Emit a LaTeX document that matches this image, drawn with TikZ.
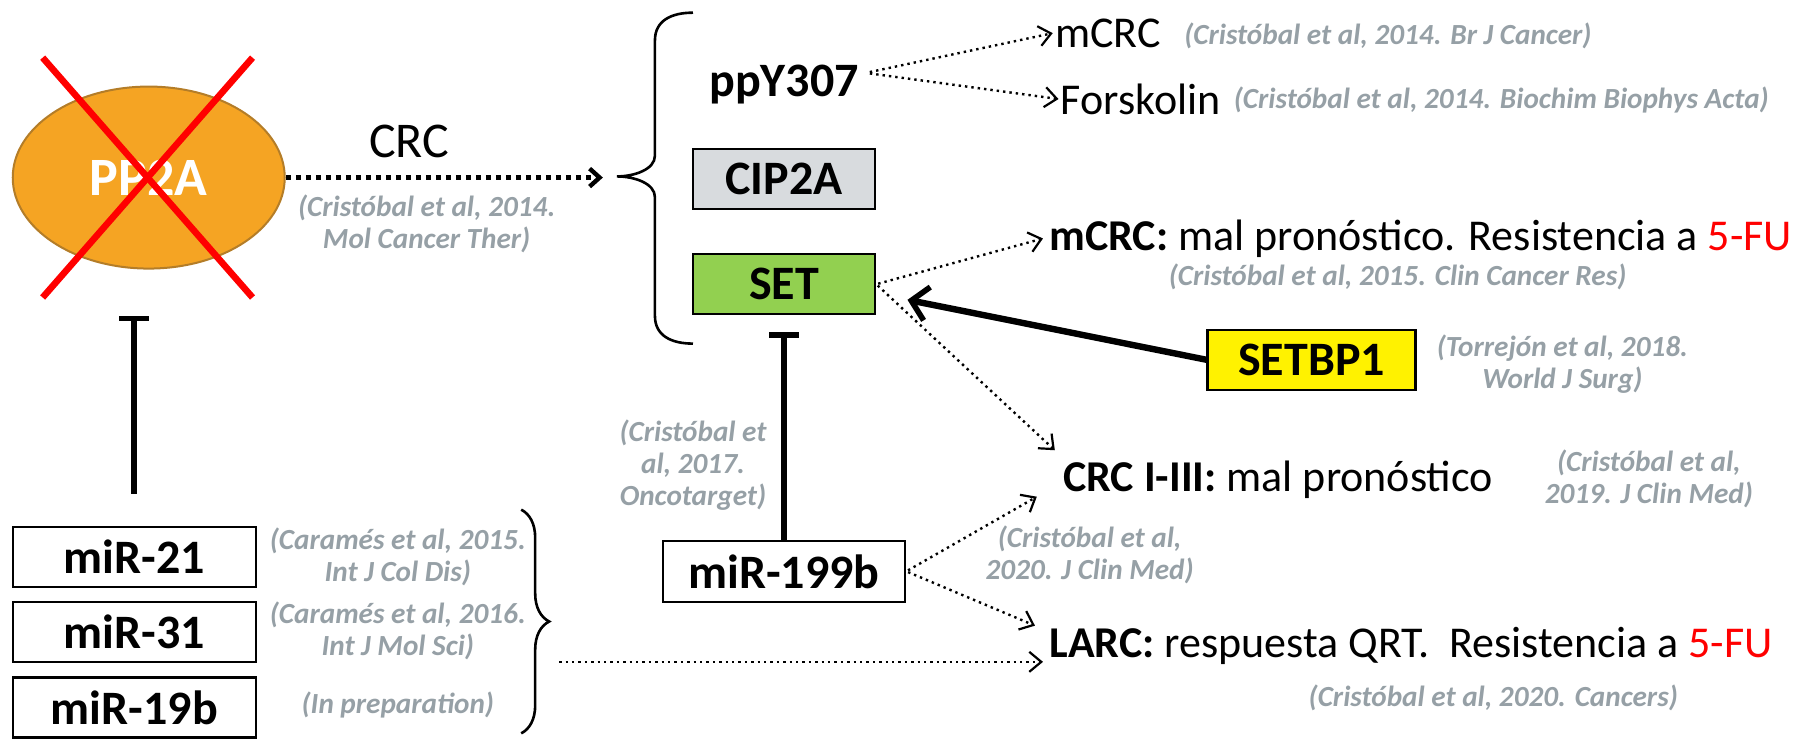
\documentclass[tikz,border=0pt]{standalone}
\usepackage{fontspec}
\setmainfont{Carlito}
\usetikzlibrary{arrows.meta,decorations.pathreplacing,shapes.geometric,positioning}

\definecolor{citegray}{RGB}{150,160,166}
\definecolor{pporange}{RGB}{245,164,35}
\definecolor{ppedge}{RGB}{180,125,40}
\definecolor{cipgray}{RGB}{216,219,222}
\definecolor{setgreen}{RGB}{146,208,80}

\tikzset{
  box/.style={draw, line width=1.2pt, inner sep=0pt, font=\bfseries\fontsize{24}{28}\selectfont},
  cite/.style={font=\bfseries\itshape\fontsize{14.6}{16}\selectfont, text=citegray, align=center, inner sep=1pt},
  bigtext/.style={font=\fontsize{22}{26}\selectfont, inner sep=1pt},
  dotarrow/.style={line width=1.2pt, dash pattern=on 1.2pt off 2pt, -{Straight Barb[length=6pt,width=10pt,line width=1.1pt]}},
  fatdots/.style={line width=2.5pt, dash pattern=on 2.5pt off 2.5pt, -{Straight Barb[length=5pt,width=9pt,line width=2.2pt]}},
  inhib/.style={line width=3pt, -{Bar[width=15pt,line width=2.6pt]}},
  bracebig/.style={decorate, decoration={brace, amplitude=14pt}, line width=1.3pt}
}

\begin{document}
\begin{tikzpicture}[x=0.5765pt,y=0.5765pt,yscale=-1,xscale=1]
  \useasboundingbox (0,0) rectangle (1568,641);

  %Shape: Ellipse PP2A
  \node[ellipse, draw=ppedge, line width=1pt, fill=pporange, minimum width=136pt, minimum height=91pt,
        text=white, font=\bfseries\fontsize{27}{30}\selectfont] (pp2a) at (129,154) {PP2A};
  % red cross
  \draw[red, line width=3.3pt] (37,50) -- (219,258);
  \draw[red, line width=3.3pt] (219,50) -- (37,258);

  % Text Node
  \node[font=\fontsize{25}{28}\selectfont, anchor=base] (crclab) at (355,137) {CRC};
  \node[cite] at (370,194) {(Cristóbal et al, 2014.\\Mol Cancer Ther)};

  %Shape: upper brace
  \draw[line width=1.3pt] (601,11) .. controls (582,11) and (568,18) .. (568,35) -- (568,135)
    .. controls (568,147) and (550,153) .. (535,153) .. controls (550,153) and (568,159) .. (568,171)
    -- (568,274) .. controls (568,291) and (582,298) .. (601,298);
  \coordinate (bracetipA) at (535,154);
  \draw[fatdots, shorten >=7pt] (pp2a.east) -- (bracetipA);

  % Boxes in the brace
  \node[font=\bfseries\fontsize{24}{28}\selectfont, anchor=base] (ppy) at (680,84) {ppY307};
  \node[box, fill=cipgray, minimum width=91pt, minimum height=30pt] (cip2a) at (680,155) {CIP2A};
  \node[box, fill=setgreen, minimum width=91pt, minimum height=30pt] (set) at (680,246.5) {SET};

  % Text Node
  \node[bigtext, anchor=base west] (mcrcA) at (913,41) {mCRC};
  \node[cite, anchor=west] at (1025,31) {(Cristóbal et al, 2014. Br J Cancer)};
  \node[bigtext, anchor=base west] (forsk) at (918,99) {Forskolin};
  \node[cite, anchor=west] at (1068,87) {(Cristóbal et al, 2014. Biochim Biophys Acta)};

  \node[bigtext, anchor=base west] (mcrcB) at (908,217) {\textbf{mCRC:} mal pronóstico. Resistencia a \textcolor{red}{5-FU}};
  \node[cite] at (1212,240) {(Cristóbal et al, 2015. Clin Cancer Res)};

  \node[box, fill=yellow, minimum width=104pt, minimum height=30pt] (setbp1) at (1137.5,312) {SETBP1};
  \node[cite] at (1355,316) {(Torrejón et al, 2018.\\World J Surg)};

  \node[bigtext, anchor=base west] (crc3) at (920,426) {\textbf{CRC I-III:} mal pronóstico};
  \node[cite] at (1430,415) {(Cristóbal et al,\\2019. J Clin Med)};

  \node[box, fill=white, minimum width=121pt, minimum height=30.5pt] (mir199b) at (680,495.5) {miR-199b};
  \node[cite] at (601,403) {(Cristóbal et\\al, 2017.\\Oncotarget)};
  \node[cite] at (945,481) {(Cristóbal et al,\\2020. J Clin Med)};

  \node[bigtext, anchor=base west] (larc) at (908,570) {\textbf{LARC:} respuesta QRT.\ \ Resistencia a \textcolor{red}{5-FU}};
  \node[cite] at (1295,605) {(Cristóbal et al, 2020. Cancers)};

  % miR boxes on the left
  \foreach \nm/\lab/\yy in {mir21/miR-21/483, mir31/miR-31/548, mir19b/miR-19b/613.5}
    \node[box, fill=white, minimum width=121.6pt, minimum height=30pt] (\nm) at (116.5,\yy) {\lab};
  \node[cite] at (345,483) {(Caramés et al, 2015.\\Int J Col Dis)};
  \node[cite] at (345,547) {(Caramés et al, 2016.\\Int J Mol Sci)};
  \node[cite] at (345,611) {(In preparation)};

  %Shape: lower brace
  \draw[bracebig] (452,442) -- (452,636);
  \coordinate (larcstart) at (485,574);

  % connectors (yshift is flipped by yscale=-1: + goes down)
  \coordinate (pp2abar) at ([yshift=23pt]pp2a.south);
  \draw[inhib, shorten <=16pt] (mir21.north) -- (mir21.north |- pp2abar);
  \draw[inhib, shorten >=8.5pt] (mir199b.north) -- (mir199b.north |- set.south);
  \draw[line width=3.2pt, -{Straight Barb[length=8pt,width=17pt,line width=2.8pt]}]
    (setbp1.west) -- ([xshift=15.6pt,yshift=7.8pt]set.east);

  \draw[dotarrow, shorten <=2pt] ([yshift=-6pt]ppy.east) -- (mcrcA.west);
  \draw[dotarrow, shorten <=2pt] ([yshift=-6pt]ppy.east) -- (forsk.west);
  \draw[dotarrow, shorten <=1pt] (set.east) -- ([xshift=-2pt]mcrcB.west);
  \draw[dotarrow, shorten <=1pt] (set.east) -- ([xshift=-3pt,yshift=-4pt]crc3.north west);
  \draw[dotarrow, shorten <=1pt] (mir199b.east) -- ([xshift=-12pt,yshift=-2pt]crc3.south west);
  \draw[dotarrow, shorten <=1pt] (mir199b.east) -- ([xshift=-6pt,yshift=-10pt]larc.west);
  \draw[dotarrow] (larcstart) -- ([xshift=-2pt]larc.west |- larcstart);

\end{tikzpicture}
\end{document}
